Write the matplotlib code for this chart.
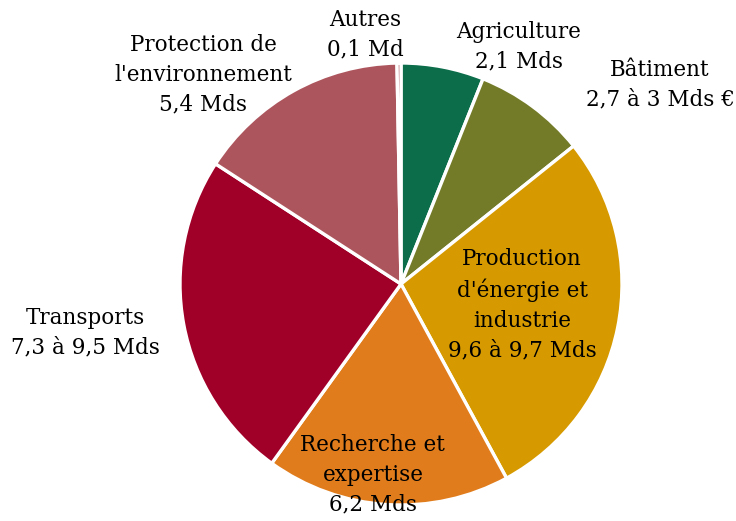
import matplotlib
matplotlib.use('Agg')
import matplotlib.pyplot as plt

labels = ['Agriculture\n2,1 Mds', 'Bâtiment\n2,7 à 3 Mds €', "Production\nd'énergie et\nindustrie\n9,6 à 9,7 Mds",
          'Recherche et\nexpertise\n6,2 Mds', 'Transports\n7,3 à 9,5 Mds', "Protection de\nl'environnement\n5,4 Mds",
          'Autres\n0,1 Md']
values = [2.1, 2.85, 9.65, 6.2, 8.4, 5.4, 0.1]
colors = ['#0b6d4a', '#737b28', '#d69a00', '#e07c1b', '#a00028', '#ad555d', '#ad555d']
# label positions (pie radius = 1)
label_pos = [(0.534, 1.072), (1.172, 0.900), (0.548, -0.095), (-0.127, -0.864),
             (-1.430, -0.222), (-0.896, 0.946), (-0.163, 1.127)]

plt.rcParams['font.family'] = ['DejaVu Serif']

fig = plt.figure(figsize=(7.36, 5.21), dpi=100)
ax = fig.add_axes([0, 0, 1, 1])
ax.pie(values, colors=colors, startangle=90, counterclock=False, radius=1,
       wedgeprops=dict(edgecolor='white', linewidth=2.4))
for lab, (x, y) in zip(labels, label_pos):
    ax.text(x, y, lab, ha='center', va='center', fontsize=15.5, color='black', linespacing=1.45)

ax.set_xlim(-401 / 221, 335 / 221)
ax.set_ylim(-237 / 221, 284 / 221)
ax.set_aspect('auto')
ax.axis('off')
fig.savefig('out.png', dpi=100)
